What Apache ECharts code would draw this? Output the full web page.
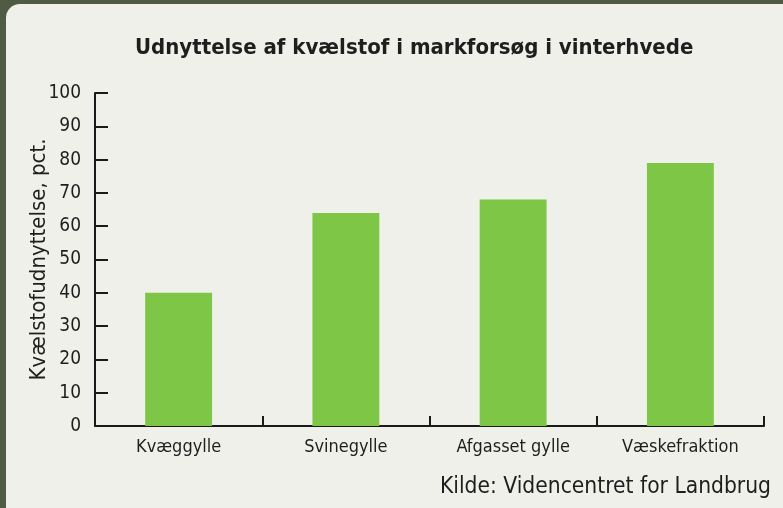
<!DOCTYPE html>
<html>
<head>
<meta charset="utf-8">
<script src="https://cdn.jsdelivr.net/npm/echarts@6/dist/echarts.min.js"></script>
<style>
  html, body { margin: 0; padding: 0; background: #4f5b42; }
  #chart { width: 783px; height: 508px; }
</style>
</head>
<body>
<div id="chart"></div>
<script>
// Kvælstofudnyttelse i markforsøg — søjler
const categories = ["Kvæggylle", "Svinegylle", "Afgasset gylle", "Væskefraktion"];
const values = [40, 64, 68, 79];
const yTicks = [0, 10, 20, 30, 40, 50, 60, 70, 80, 90, 100];

const FONT = "'DejaVu Sans Condensed', 'Liberation Sans Narrow', sans-serif";
const chart = echarts.init(document.getElementById("chart"));

chart.setOption({
  backgroundColor: "#4f5b42",
  textStyle: { fontFamily: FONT },
  graphic: [
    {
      type: "rect",
      z: -10,
      shape: { x: 6, y: 4, width: 790, height: 520, r: [14, 0, 0, 14] },
      style: { fill: "#f0f0eb" },
    },
  ],
  title: [
    {
      text: "Udnyttelse af kvælstof i markforsøg i vinterhvede",
      left: 130,
      top: 32,
      textStyle: { fontFamily: FONT, fontSize: 22, fontWeight: "bold", color: "#1e1e1e" },
    },
    {
      text: "Kilde: Videncentret for Landbrug",
      right: 7,
      top: 471,
      textStyle: { fontFamily: FONT, fontSize: 22.6, fontWeight: "normal", color: "#1e1e1e" },
    },
  ],
  grid: { left: 95, right: 19, top: 93, bottom: 82 },
  xAxis: {
    type: "category",
    data: categories,
    axisLine: { lineStyle: { color: "#1a1a1a", width: 2 } },
    axisTick: { show: true, inside: true, length: 10, lineStyle: { color: "#1a1a1a", width: 2 } },
    axisLabel: { fontFamily: FONT, fontSize: 18, color: "#1e1e1e", margin: 12 },
  },
  yAxis: {
    type: "value",
    min: yTicks[0],
    max: yTicks[yTicks.length - 1],
    interval: 10,
    name: "Kvælstofudnyttelse, pct.",
    nameLocation: "middle",
    nameGap: 45,
    nameMoveOverlap: false,
    nameTextStyle: { fontFamily: FONT, fontSize: 22, color: "#1e1e1e" },
    axisLine: { show: true, lineStyle: { color: "#1a1a1a", width: 2 } },
    axisTick: { show: true, inside: true, length: 13, lineStyle: { color: "#1a1a1a", width: 2 } },
    axisLabel: { fontFamily: FONT, fontSize: 19, color: "#1e1e1e", margin: 14 },
    splitLine: { show: false },
  },
  series: [
    {
      type: "bar",
      data: values,
      barWidth: "40%",
      itemStyle: { color: "#7dc646" },
      silent: true,
    },
  ],
});
</script>
</body>
</html>
